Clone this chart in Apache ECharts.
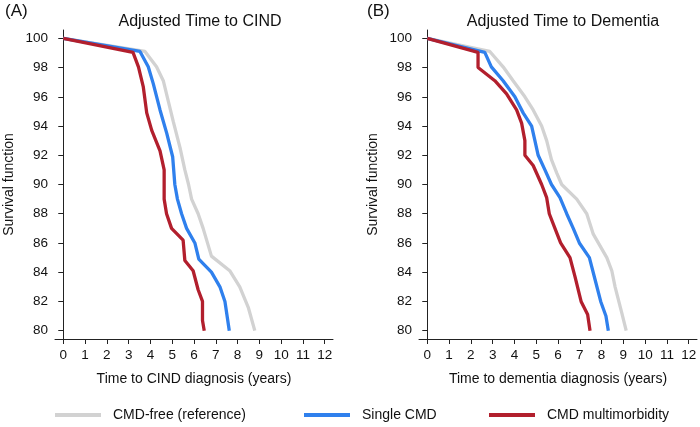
<!DOCTYPE html>
<html>
<head>
<meta charset="utf-8">
<script src="https://cdn.jsdelivr.net/npm/echarts@6/dist/echarts.min.js"></script>
<style>
  html, body { margin: 0; padding: 0; background: #fff; }
  #chart { width: 700px; height: 427px; }
</style>
</head>
<body>
<div id="chart"></div>
<script>
"use strict";
// 刻度
var xTicks = [0, 1, 2, 3, 4, 5, 6, 7, 8, 9, 10, 11, 12];
var yTicks = [80, 82, 84, 86, 88, 90, 92, 94, 96, 98, 100];
var seriesNames = ['CMD-free (reference)', 'Single CMD', 'CMD multimorbidity'];
var seriesColors = ['#d2d2d2', '#2f80ed', '#b21f2d'];

// (A) CIND  [年, 生存率]
var cindFree = [[0, 100], [3.75, 99.1], [4.28, 98.05], [4.59, 97.1], [4.82, 95.7], [5.05, 94.3], [5.36, 92.5],
    [5.58, 91.0], [5.75, 90], [5.89, 89], [6.19, 88], [6.42, 87], [6.8, 85.1], [7.64, 84.1], [8.1, 83],
    [8.49, 81.6], [8.79, 80]];
var cindSingle = [[0, 100], [3.52, 99.1], [3.9, 98.05], [4.13, 96.9], [4.44, 95.1], [4.75, 93.5], [5.02, 91.9],
    [5.12, 90], [5.24, 89], [5.43, 88], [5.66, 87], [6.04, 86], [6.22, 84.9], [6.8, 84], [7.19, 83],
    [7.42, 82], [7.62, 80]];
var cindMulti = [[0, 100], [3.2, 99.04], [3.45, 98.05], [3.67, 96.7], [3.83, 94.9], [4.06, 93.7], [4.44, 92.3],
    [4.63, 91.0], [4.63, 89], [4.74, 88], [4.97, 87], [5.5, 86.2], [5.58, 84.8], [5.96, 84.1], [6.19, 82.8],
    [6.39, 82], [6.39, 80.7], [6.47, 80]];

// (B) 痴呆
var demFree = [[0, 100], [2.87, 99.1], [3.48, 98.05], [3.94, 97.1], [4.48, 96], [4.86, 95.1], [5.25, 94],
    [5.48, 93], [5.7, 91.7], [5.94, 90.8], [6.17, 90], [6.86, 89], [7.32, 88], [7.62, 86.6], [8.24, 85],
    [8.47, 84.1], [8.62, 83], [8.93, 81.2], [9.13, 80]];
var demSingle = [[0, 100], [2.64, 99.04], [2.94, 98.05], [3.48, 97.1], [4.02, 96], [4.4, 94.9], [4.79, 94],
    [4.94, 93], [5.09, 92], [5.4, 91], [5.7, 90], [6.09, 89.1], [6.4, 88], [6.7, 87], [6.98, 86],
    [7.44, 85], [7.7, 83.5], [7.96, 82], [8.2, 81], [8.31, 80]];
var demMulti = [[0, 100], [2.33, 99.04], [2.33, 98], [3.1, 97.1], [3.64, 96.2], [4.1, 95.1], [4.33, 94.2],
    [4.48, 93], [4.48, 92], [4.86, 91.3], [5.25, 90], [5.48, 89.1], [5.6, 88], [5.86, 87], [6.12, 86],
    [6.55, 85], [6.78, 83.7], [7.06, 82], [7.36, 81.1], [7.47, 80]];

var FONT = 'Liberation Sans, Arial, Helvetica, sans-serif';

function xAxisOpt(gridIndex, name) {
    return {
        type: 'value', gridIndex: gridIndex, min: -0.38, max: 12.38,
        name: name, nameLocation: 'middle', nameGap: 33,
        nameTextStyle: { color: '#111', fontSize: 14, fontFamily: FONT },
        axisLine: { show: true, lineStyle: { color: '#222', width: 1 } },
        axisTick: { show: true, length: 5, lineStyle: { color: '#222' }, customValues: xTicks },
        axisLabel: { color: '#111', fontSize: 13.5, fontFamily: FONT, margin: 9, customValues: xTicks },
        splitLine: { show: false }
    };
}
function yAxisOpt(gridIndex) {
    return {
        type: 'value', gridIndex: gridIndex, min: 79.43, max: 100.57,
        name: 'Survival function', nameLocation: 'middle', nameGap: 39, nameRotate: 90,
        nameTextStyle: { color: '#111', fontSize: 14, fontFamily: FONT },
        axisLine: { show: true, lineStyle: { color: '#222', width: 1 } },
        axisTick: { show: true, length: 5, lineStyle: { color: '#222' }, customValues: yTicks },
        axisLabel: { color: '#111', fontSize: 13.5, fontFamily: FONT, margin: 7, customValues: yTicks },
        splitLine: { show: false }
    };
}
function line(name, idx, data, color) {
    return {
        name: name, type: 'line', xAxisIndex: idx, yAxisIndex: idx,
        data: data, showSymbol: false, symbol: 'none', silent: true,
        lineStyle: { color: color, width: 3.3 }, itemStyle: { color: color },
        animation: false
    };
}
function legendOpt(name, left) {
    return {
        data: [name], left: left, top: 403, icon: 'rect',
        itemWidth: 46, itemHeight: 4,
        textStyle: { color: '#111', fontSize: 14, fontFamily: FONT, padding: [0, 0, 0, 7] }
    };
}

var chart = echarts.init(document.getElementById('chart'));
chart.setOption({
    backgroundColor: '#fff',
    animation: false,
    title: [
        { text: '(A)', left: 0, top: -2, textStyle: { fontSize: 17, fontWeight: 'normal', color: '#111', fontFamily: FONT } },
        { text: '(B)', left: 362, top: -2, textStyle: { fontSize: 17, fontWeight: 'normal', color: '#111', fontFamily: FONT } },
        { text: 'Adjusted Time to CIND', left: 195, textAlign: 'center', top: 9,
          textStyle: { fontSize: 16, fontWeight: 'normal', color: '#111', fontFamily: FONT } },
        { text: 'Adjusted Time to Dementia', left: 558, textAlign: 'center', top: 9,
          textStyle: { fontSize: 16, fontWeight: 'normal', color: '#111', fontFamily: FONT } }
    ],
    grid: [
        { left: 55, top: 30, width: 278, height: 309 },
        { left: 419, top: 30, width: 278, height: 309 }
    ],
    xAxis: [xAxisOpt(0, 'Time to CIND diagnosis (years)'), xAxisOpt(1, 'Time to dementia diagnosis (years)')],
    yAxis: [yAxisOpt(0), yAxisOpt(1)],
    legend: [
        legendOpt(seriesNames[0], 50),
        legendOpt(seriesNames[1], 299),
        legendOpt(seriesNames[2], 484)
    ],
    series: [
        line(seriesNames[0], 0, cindFree, seriesColors[0]),
        line(seriesNames[1], 0, cindSingle, seriesColors[1]),
        line(seriesNames[2], 0, cindMulti, seriesColors[2]),
        line(seriesNames[0], 1, demFree, seriesColors[0]),
        line(seriesNames[1], 1, demSingle, seriesColors[1]),
        line(seriesNames[2], 1, demMulti, seriesColors[2])
    ]
});
</script>
</body>
</html>
